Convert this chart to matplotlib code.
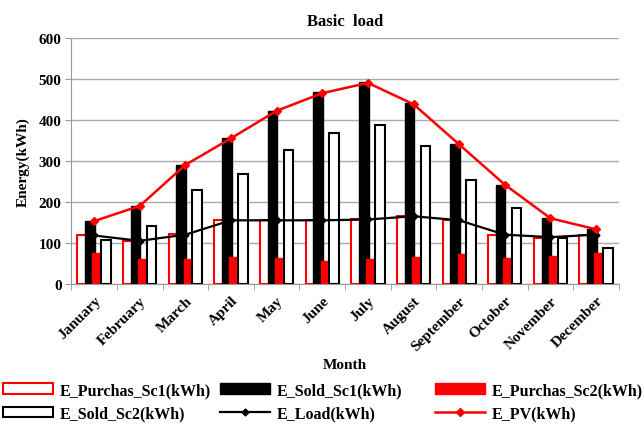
import matplotlib.pyplot as plt
import numpy as np
from matplotlib.patches import Patch
from matplotlib.lines import Line2D

plt.rc('font', family='Liberation Serif', weight='bold', size=11)
plt.rc('axes', labelweight='bold', titleweight='bold')

months = ['January', 'February', 'March', 'April', 'May', 'June', 'July',
          'August', 'September', 'October', 'November', 'December']

# monthly energy, kWh
purchas_sc1 = [120, 105, 122, 155, 155, 155, 157, 165, 155, 120, 112, 120]
sold_sc1 = [153, 190, 290, 355, 422, 468, 492, 440, 340, 242, 160, 133]
purchas_sc2 = [75, 60, 60, 65, 63, 57, 60, 65, 72, 63, 68, 75]
sold_sc2 = [108, 140, 230, 267, 327, 367, 387, 335, 253, 185, 112, 88]
e_load = [118, 105, 120, 155, 155, 155, 157, 165, 155, 120, 114, 120]
e_pv = [153, 190, 290, 355, 422, 465, 490, 438, 340, 242, 160, 133]

x = np.arange(len(months))
barwidth = 0.21

fig = plt.figure(figsize=(6.42, 4.31), dpi=100)
ax = fig.add_axes([0.111, 0.339, 0.853, 0.571])

ax.bar(x - 0.26, purchas_sc1, width=barwidth, color='white', edgecolor='red', linewidth=1.5, zorder=3)
ax.bar(x - 0.09, sold_sc1, width=barwidth, color='black', edgecolor='black', linewidth=1, zorder=3)
ax.bar(x + 0.07, purchas_sc2, width=barwidth, color='red', edgecolor='red', linewidth=1, zorder=3)
ax.bar(x + 0.26, sold_sc2, width=barwidth, color='white', edgecolor='black', linewidth=1.5, zorder=3)
ax.plot(x, e_load, color='black', lw=1.6, marker='D', ms=3.5, zorder=4)
ax.plot(x, e_pv, color='red', lw=1.8, marker='D', ms=4.5, zorder=5)

ax.set_xlim(-0.5, len(months) - 0.5)
ax.set_ylim(0, 600)
ax.set_yticks(range(0, 601, 100))
ax.set_xticks(x)
ax.set_xticklabels(months, rotation=45, ha='right', rotation_mode='anchor')
ax.tick_params(axis='x', length=0, pad=7)
ax.set_xticks(np.arange(-0.5, len(months)), minor=True)
ax.tick_params(axis='x', which='minor', length=4, color='#999999')
ax.tick_params(axis='y', length=4, color='#999999', pad=3)
ax.grid(axis='y', color='#aaaaaa', lw=1, zorder=0)
for side in ['top', 'right']:
    ax.spines[side].set_visible(False)
for side in ['left', 'bottom']:
    ax.spines[side].set_color('#999999')

ax.set_title('Basic  load', fontsize=12, pad=9)
ax.set_ylabel('Energy(kWh)', fontsize=11, labelpad=6)
ax.set_xlabel('Month', fontsize=11, labelpad=4)

h = [Patch(facecolor='white', edgecolor='red', lw=1.5),
     Patch(facecolor='black', edgecolor='black'),
     Patch(facecolor='red', edgecolor='red'),
     Patch(facecolor='white', edgecolor='black', lw=1.5),
     Line2D([], [], color='black', lw=1.6, marker='D', ms=3.5),
     Line2D([], [], color='red', lw=1.8, marker='D', ms=4.5)]
labels = ['E_Purchas_Sc1(kWh)', 'E_Sold_Sc1(kWh)', 'E_Purchas_Sc2(kWh)',
          'E_Sold_Sc2(kWh)', 'E_Load(kWh)', 'E_PV(kWh)']

# one legend per column, two rows each
for col, x0 in enumerate([3, 220, 435]):
    fig.legend([h[col], h[col + 3]], [labels[col], labels[col + 3]],
               loc='lower left', bbox_to_anchor=(x0 / 642, 0.019),
               frameon=False, handlelength=3.1, handleheight=0.6,
               handletextpad=0.45, labelspacing=0.48, borderpad=0,
               borderaxespad=0, fontsize=11.5)

plt.savefig('out.png', dpi=100)
